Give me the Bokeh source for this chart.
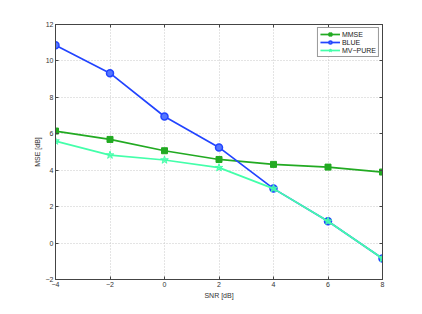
from bokeh.plotting import figure
from bokeh.models import LinearAxis, Range1d, Legend, LegendItem
from bokeh.embed import file_html
from bokeh.resources import INLINE

snr = [-4, -2, 0, 2, 4, 6, 8]
mmse = [6.15, 5.69, 5.07, 4.59, 4.32, 4.17, 3.90]
blue = [10.86, 9.33, 6.95, 5.25, 2.99, 1.20, -0.85]
mvpure = [5.60, 4.83, 4.56, 4.14, 2.99, 1.20, -0.85]

x_ticks = [-4, -2, 0, 2, 4, 6, 8]
y_ticks = [-2, 0, 2, 4, 6, 8, 10, 12]

FONT = "Liberation Sans"
C_MMSE = "#22aa22"
C_BLUE = "#2244ff"
C_MV = "#44ffaa"

p = figure(width=414, height=306, output_backend="svg", toolbar_location=None,
           x_range=Range1d(-4, 8), y_range=Range1d(-2, 12),
           min_border_left=55, min_border_right=32, min_border_top=24, min_border_bottom=27)
p.background_fill_color = "white"
p.border_fill_color = "white"
p.outline_line_color = "#444444"
p.outline_line_width = 1

for ax in (p.xaxis[0], p.yaxis[0]):
    ax.major_label_text_font = FONT
    ax.major_label_text_font_size = "7px"
    ax.major_label_text_color = "#333333"
    ax.axis_label_text_font = FONT
    ax.axis_label_text_font_size = "7px"
    ax.axis_label_text_font_style = "normal"
    ax.axis_label_text_color = "#333333"
    ax.axis_line_color = "#444444"
    ax.major_tick_line_color = "#444444"
    ax.major_tick_in = 3
    ax.major_tick_out = 0
    ax.minor_tick_line_color = None
    ax.major_label_standoff = 2
    ax.axis_label_standoff = 2

p.xaxis[0].ticker = x_ticks
p.yaxis[0].ticker = y_ticks
p.xaxis[0].axis_label = "SNR [dB]"
p.yaxis[0].axis_label = "MSE [dB]"

top = LinearAxis(ticker=x_ticks, major_label_text_alpha=0, major_label_text_font_size="1px",
                 major_tick_in=3, major_tick_out=0, minor_tick_line_color=None,
                 axis_line_color="#444444", major_tick_line_color="#444444")
right = LinearAxis(ticker=y_ticks, major_label_text_alpha=0, major_label_text_font_size="1px",
                   major_tick_in=3, major_tick_out=0, minor_tick_line_color=None,
                   axis_line_color="#444444", major_tick_line_color="#444444")
p.add_layout(top, "above")
p.add_layout(right, "right")

p.xgrid.ticker = x_ticks
p.ygrid.ticker = y_ticks
p.grid.grid_line_color = "#c8c8c8"
p.grid.grid_line_dash = "1 2"

l1 = p.line(snr, mmse, line_color=C_MMSE, line_width=1.7)
m1 = p.scatter(snr, mmse, marker="square", size=6, line_color=C_MMSE, fill_color=C_MMSE)
l2 = p.line(snr, blue, line_color=C_BLUE, line_width=1.7)
m2 = p.scatter(snr, blue, marker="circle", size=7, line_color=C_BLUE, line_width=1.5, fill_color="#5577ff")
l3 = p.line(snr, mvpure, line_color=C_MV, line_width=1.7)
m3 = p.scatter(snr, mvpure, marker="star", size=8, line_color=C_MV, fill_color=C_MV, fill_alpha=0.6)

legend = Legend(items=[
    LegendItem(label="MMSE", renderers=[l1, m1]),
    LegendItem(label="BLUE", renderers=[l2, m2]),
    LegendItem(label="MV\u2212PURE", renderers=[l3, m3]),
], location="top_right")
legend.label_text_font = FONT
legend.label_text_font_size = "7px"
legend.label_text_color = "#222222"
legend.label_height = 7
legend.label_standoff = 2
legend.glyph_height = 8
legend.glyph_width = 20
legend.spacing = 0
legend.padding = 2
legend.margin = 3
legend.border_line_color = "#333333"
legend.border_line_width = 1
legend.background_fill_alpha = 1
p.add_layout(legend)

open("out.html", "w").write(file_html(p, INLINE))
